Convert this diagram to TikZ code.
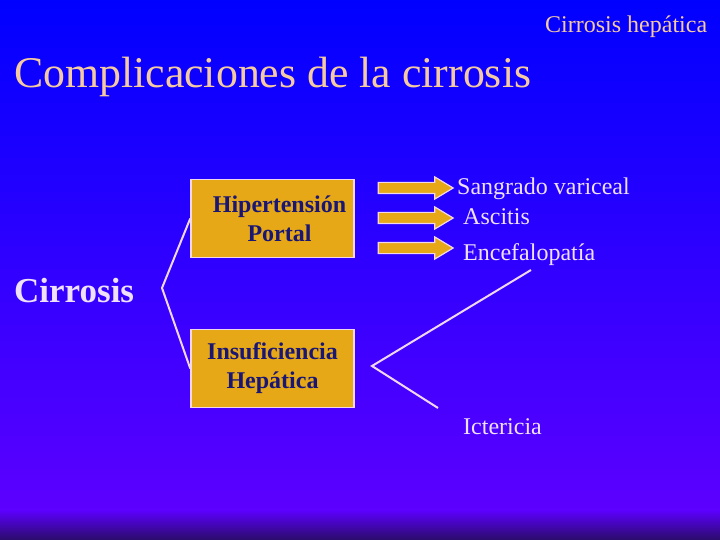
\documentclass[tikz,border=0pt]{standalone}
\usepackage{fontspec}
\setmainfont{Liberation Serif}
\usepackage{xcolor}
\usetikzlibrary{shapes.arrows}

\definecolor{topblue}{RGB}{0,0,255}
\definecolor{lowviolet}{RGB}{92,0,255}
\definecolor{darkviolet}{RGB}{42,12,105}
\definecolor{peach}{RGB}{245,202,160}
\definecolor{lavender}{RGB}{240,224,250}
\definecolor{boxgold}{RGB}{230,168,22}
\definecolor{boxink}{RGB}{25,22,118}
\definecolor{rimpink}{RGB}{242,215,235}

\tikzset{
  goldbox/.style={draw=rimpink, line width=1.5pt, fill=boxgold, text=boxink,
    minimum width=163pt, minimum height=78pt, align=center,
    font=\fontsize{24}{29}\selectfont\bfseries},
  goldarrow/.style={single arrow, draw=rimpink, line width=1.2pt, fill=boxgold,
    minimum width=21pt, minimum height=75pt, single arrow head extend=5.5pt,
    single arrow tip angle=62, inner xsep=0pt, inner ysep=5pt},
  item/.style={text=lavender, anchor=base west, inner sep=0pt,
    font=\fontsize{24}{29}\selectfont},
  bracket/.style={draw=rimpink, line width=2pt}
}

\begin{document}
\begin{tikzpicture}[x=1pt,y=-1pt]
\shade[top color=topblue, bottom color=lowviolet] (0,0) rectangle (720,510);
\shade[top color=lowviolet, bottom color=darkviolet] (0,510) rectangle (720,540);
\useasboundingbox (0,0) rectangle (720,540);

\node[anchor=base west, inner sep=0pt, text=peach, font=\fontsize{24}{29}\selectfont] (hdr) at (545,33) {Cirrosis hepática};
\node[anchor=base west, inner sep=0pt, text=peach, font=\fontsize{43.8}{50}\selectfont] (title) at (14,88) {Complicaciones de la cirrosis};

\node[anchor=base west, inner sep=0pt, text=lavender, font=\fontsize{35}{40}\selectfont\bfseries] (cirr) at (14,302) {Cirrosis};

\node[goldbox] (hp) at (272.5,218.5) {\hspace*{14pt}Hipertensión\\\hspace*{14pt}Portal};
\node[goldbox] (ih) at (272.5,368.5) {Insuficiencia\\Hepática};

\coordinate (knee) at (162,288);
\draw[bracket] (hp.west) -- (knee) -- (ih.west);

\node[goldarrow] (arA) at (411,188) {};
\node[goldarrow] (arB) at (411,218) {};
\node[goldarrow] (arC) at (411,248) {};

\node[item] (sang) at (457,195) {Sangrado variceal};
\node[item] (asci) at (463,225) {Ascitis};
\node[item] (ence) at (463,260) {Encefalopatía};
\node[item] (icte) at (463,434) {Ictericia};

\coordinate (upEnd) at (531,270);
\coordinate (tip) at (372,366);
\coordinate (lowEnd) at (438,408);
\draw[bracket] (upEnd) -- (tip) -- (lowEnd);
\end{tikzpicture}
\end{document}
